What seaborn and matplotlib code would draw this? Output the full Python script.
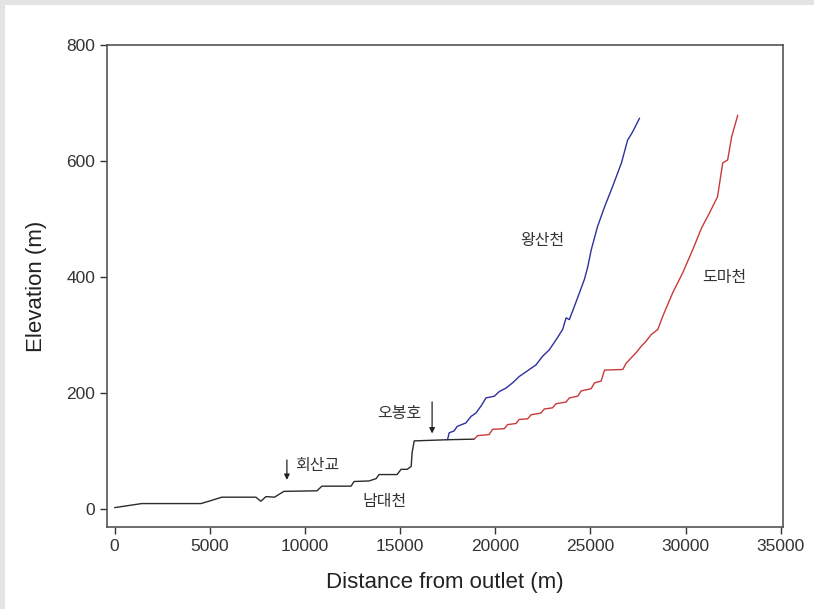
import numpy as np
import pandas as pd
import matplotlib
matplotlib.use("Agg")
import matplotlib.pyplot as plt
from matplotlib.patches import Rectangle
import seaborn as sns

# main stem (남대천), distance (m) / elevation (m)
main_x = [0, 1420, 4530, 4950, 5630, 7420, 7680, 7950, 8400, 8890, 10630, 10890,
          12420, 12580, 13370, 13740, 13890, 14840, 15050, 15370, 15580, 15630,
          15740, 17490, 18890]
main_y = [3, 10, 10, 14, 21, 21, 14, 22, 21, 31, 32, 40,
          40, 48, 49, 53, 60, 60, 69, 69, 74, 98,
          118, 120, 121]

# 왕산천 branch
wang_x = [17490, 17580, 17830, 18000, 18460, 18720, 18980, 19250, 19510, 19950,
          20210, 20560, 20910, 21260, 21790, 22140, 22490, 22840, 23190, 23540,
          23720, 23890, 24160, 24420, 24680, 24860, 25040, 25370, 25740, 26160,
          26630, 26950, 27210, 27580]
wang_y = [120, 132, 135, 143, 149, 160, 166, 178, 192, 195,
          203, 209, 218, 229, 241, 249, 264, 275, 292, 310,
          330, 327, 350, 373, 396, 418, 447, 487, 521, 556,
          597, 636, 650, 674]

# 도마천 branch
doma_x = [18890, 19070, 19680, 19860, 20470, 20650, 21090, 21260, 21700, 21880,
          22400, 22580, 23010, 23190, 23720, 23890, 24330, 24510, 25040, 25210,
          25560, 25740, 26700, 26880, 27140, 27400, 27670, 27930, 28190, 28540,
          28790, 29320, 29840, 30370, 30840, 31260, 31680, 31950, 32210, 32420,
          32740]
doma_y = [121, 127, 129, 138, 139, 146, 148, 155, 156, 163,
          166, 173, 175, 182, 185, 192, 195, 204, 208, 218,
          221, 240, 241, 252, 261, 270, 281, 290, 301, 310,
          332, 373, 407, 447, 485, 511, 539, 597, 602, 642,
          679]

x_ticks = [0, 5000, 10000, 15000, 20000, 25000, 30000, 35000]
y_ticks = [0, 200, 400, 600, 800]

sns.set_style("ticks")
plt.rcParams["font.family"] = ["Liberation Sans", "Noto Sans CJK KR", "DejaVu Sans"]

fig = plt.figure(figsize=(8.14, 6.09), dpi=100)
ax = fig.add_axes([0.1315, 0.135, 0.83, 0.791])

sns.lineplot(x=main_x, y=main_y, sort=False, estimator=None, color="#2b2b2b", lw=1.0, ax=ax)
sns.lineplot(x=wang_x, y=wang_y, sort=False, estimator=None, color="#2f2f9c", lw=1.0, ax=ax)
sns.lineplot(x=doma_x, y=doma_y, sort=False, estimator=None, color="#c83a3a", lw=1.0, ax=ax)

ax.set_xlim(-400, 35100)
ax.set_ylim(-30, 800)
ax.set_xticks(x_ticks)
ax.set_yticks(y_ticks)
ax.tick_params(labelsize=12.5, colors="#333333", length=5, width=1)
for s in ax.spines.values():
    s.set_color("#555555")
    s.set_linewidth(1.2)

ax.set_xlabel("Distance from outlet (m)", fontsize=16, color="#222222", labelpad=13)
ax.set_ylabel("Elevation (m)", fontsize=16, color="#222222", labelpad=14)

kfont = ["Noto Sans CJK KR", "DejaVu Sans"]
kstyle = dict(family=kfont, fontsize=11.5, ha="center", va="center", color="#333333")
ax.text(22470, 463, "왕산천", **kstyle)
ax.text(32050, 399, "도마천", **kstyle)
ax.text(14160, 14, "남대천", **kstyle)
ax.text(10630, 76, "회산교", **kstyle)
ax.text(14950, 165, "오봉호", **kstyle)

arrow = dict(arrowstyle="-|>", color="#222222", lw=0.9, mutation_scale=8)
ax.annotate("", xy=(9050, 46), xytext=(9050, 90), arrowprops=arrow)
ax.annotate("", xy=(16680, 126), xytext=(16680, 190), arrowprops=arrow)

# grey frame on the top and left of the picture
fig.patches.append(Rectangle((0, 0.992), 1, 0.008, transform=fig.transFigure,
                             facecolor="#e3e3e3", edgecolor="none"))
fig.patches.append(Rectangle((0, 0), 0.006, 1, transform=fig.transFigure,
                             facecolor="#e3e3e3", edgecolor="none"))

fig.savefig("out.png", dpi=100)
